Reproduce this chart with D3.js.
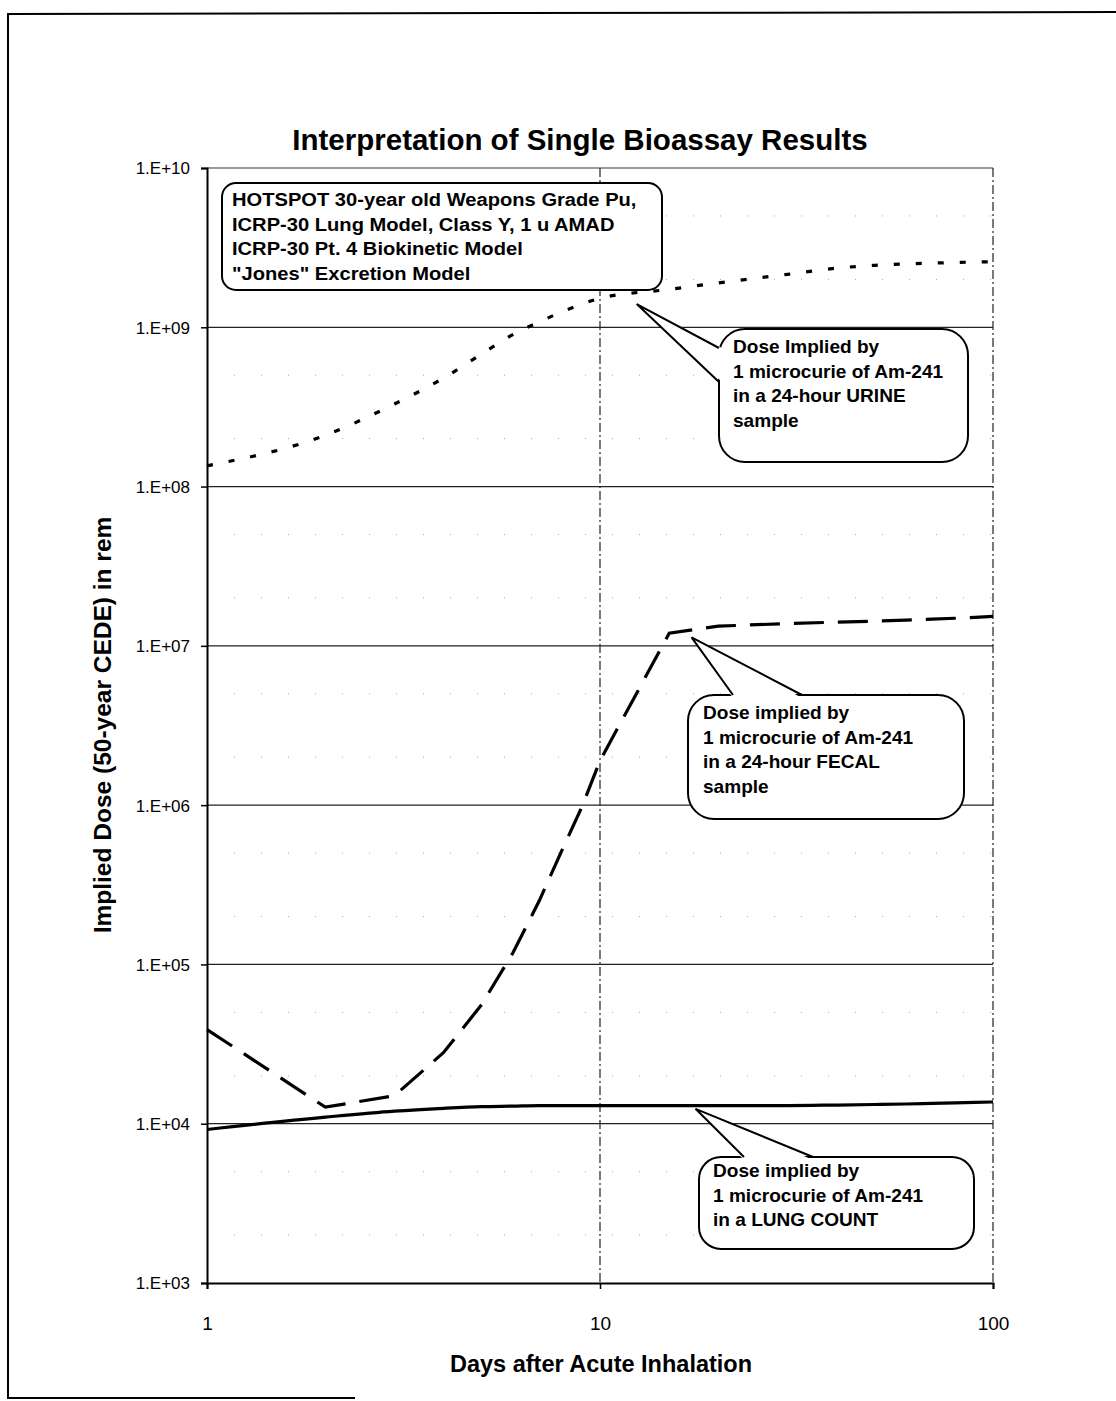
<!DOCTYPE html>
<html>
<head>
<meta charset="utf-8">
<script src="https://cdn.jsdelivr.net/npm/d3@7"></script>
<style>
  body { margin: 0; background: #fff; }
  text { font-family: "Liberation Sans", Arial, sans-serif; fill: #000; }
</style>
</head>
<body>
<script>
// data
const days = [1, 2, 3, 4, 5, 6, 7, 8, 9, 10, 15, 20, 30, 40, 50, 60, 70, 80, 90, 100];
const urine = [1.35e8, 2.1e8, 3.3e8, 4.8e8, 6.8e8, 9.0e8, 1.08e9, 1.25e9, 1.4e9, 1.52e9,
  1.73e9, 1.9e9, 2.15e9, 2.35e9, 2.45e9, 2.5e9, 2.53e9, 2.55e9, 2.57e9, 2.58e9];
const fecal = [3.9e4, 1.27e4, 1.5e4, 2.8e4, 5.6e4, 1.18e5, 2.5e5, 5.2e5, 9.8e5, 1.9e6,
  1.2e7, 1.33e7, 1.38e7, 1.41e7, 1.43e7, 1.45e7, 1.47e7, 1.49e7, 1.51e7, 1.53e7];
const lung = [9.2e3, 1.1e4, 1.2e4, 1.25e4, 1.28e4, 1.29e4, 1.3e4, 1.3e4, 1.3e4, 1.3e4,
  1.3e4, 1.3e4, 1.3e4, 1.31e4, 1.32e4, 1.33e4, 1.34e4, 1.35e4, 1.36e4, 1.37e4];
const yTicks = [1e3, 1e4, 1e5, 1e6, 1e7, 1e8, 1e9, 1e10];
const yTickLabels = ["1.E+03", "1.E+04", "1.E+05", "1.E+06", "1.E+07", "1.E+08", "1.E+09", "1.E+10"];
const xTicks = [1, 10, 100];

const width = 1116;
const height = 1401;

const svg = d3.select("body")
  .append("svg")
  .attr("width", width)
  .attr("height", height);

svg.append("rect").attr("width", width).attr("height", height).attr("fill", "#fff");

// page frame
svg.append("path")
  .attr("d", "M1116,12 L8,14 L8,1398 L355,1398")
  .attr("fill", "none").attr("stroke", "#000").attr("stroke-width", 2);

const x = d3.scaleLog().domain([1, 100]).range([207, 993]);
const y = d3.scaleLog().domain([1e3, 1e10]).range([1283, 168]);

// minor gridlines (2 and 5 in each decade), faint and sparse like the scan
const minor = [];
yTicks.slice(0, -1).forEach(d => { minor.push(d * 2, d * 5); });
svg.append("g").selectAll("line").data(minor).join("line")
  .attr("x1", x(1)).attr("x2", x(100))
  .attr("y1", d => y(d)).attr("y2", d => y(d))
  .attr("stroke", "#aaa").attr("stroke-width", 1)
  .attr("stroke-dasharray", "1,26");

// major gridlines
svg.append("g").selectAll("line").data(yTicks.slice(1, -1)).join("line")
  .attr("x1", x(1)).attr("x2", x(100))
  .attr("y1", d => y(d)).attr("y2", d => y(d))
  .attr("stroke", "#222").attr("stroke-width", 1.3);

// top border
svg.append("line")
  .attr("x1", x(1)).attr("x2", x(100)).attr("y1", y(1e10)).attr("y2", y(1e10))
  .attr("stroke", "#333").attr("stroke-width", 1.2);

// dash-dot verticals at 10 and 100
svg.append("g").selectAll("line").data([10, 100]).join("line")
  .attr("x1", d => x(d)).attr("x2", d => x(d))
  .attr("y1", y(1e10)).attr("y2", y(1e3))
  .attr("stroke", "#222").attr("stroke-width", 1.2)
  .attr("stroke-dasharray", "9,3,2,3");

// axes
const yAxis = d3.axisLeft(y).tickValues(yTicks).tickFormat((d, i) => yTickLabels[i])
  .tickSize(6).tickPadding(11);
svg.append("g").attr("transform", `translate(${x(1)},0)`).call(yAxis)
  .call(g => g.select(".domain").attr("stroke-width", 2))
  .call(g => g.selectAll(".tick line").attr("stroke-width", 1.5))
  .call(g => g.selectAll("text").style("font-size", "17px")
    .style("font-family", "'Liberation Sans', Arial, sans-serif").attr("dy", "0.35em"));

const xAxis = d3.axisBottom(x).tickValues(xTicks).tickFormat(d3.format("d"))
  .tickSize(6).tickPadding(28);
svg.append("g").attr("transform", `translate(0,${y(1e3)})`).call(xAxis)
  .call(g => g.select(".domain").attr("stroke-width", 2))
  .call(g => g.selectAll(".tick line").attr("stroke-width", 1.5))
  .call(g => g.selectAll("text").style("font-size", "19px")
    .style("font-family", "'Liberation Sans', Arial, sans-serif"));

// series
const series = [
  { values: urine, dash: "6,16", curve: d3.curveMonotoneX },
  { values: fecal, dash: "30,14", curve: d3.curveLinear },
  { values: lung, dash: null, curve: d3.curveMonotoneX }
];
series.forEach(s => {
  const line = d3.line().x((d, i) => x(days[i])).y(d => y(d)).curve(s.curve);
  svg.append("path")
    .datum(s.values)
    .attr("d", line)
    .attr("fill", "none")
    .attr("stroke", "#000")
    .attr("stroke-width", 3.2)
    .attr("stroke-dasharray", s.dash);
});

// info box
svg.append("rect")
  .attr("x", 222).attr("y", 183).attr("width", 440).attr("height", 107)
  .attr("rx", 14).attr("fill", "#fff").attr("stroke", "#000").attr("stroke-width", 2);
const infoLines = [
  "HOTSPOT 30-year old Weapons Grade Pu,",
  "ICRP-30 Lung Model, Class Y, 1 u AMAD",
  "ICRP-30 Pt. 4 Biokinetic Model",
  "\"Jones\" Excretion Model"
];
svg.append("g").selectAll("text").data(infoLines).join("text")
  .attr("transform", (d, i) => `translate(232,${206 + i * 24.5}) scale(1.06,1)`)
  .style("font-size", "19px").style("font-weight", "bold")
  .text(d => d);

// callouts
const callouts = [
  { box: [719, 329, 249, 133], r: 26, tip: [12.4, 1.4e9], base: [[719, 348], [719, 382]],
    lines: ["Dose Implied by", "1 microcurie of Am-241", "in a 24-hour URINE", "sample"],
    tx: 733, ty: 353 },
  { box: [688, 695, 276, 124], r: 26, tip: [17.1, 1.13e7], base: [[733, 695], [802, 695]],
    lines: ["Dose implied by", "1 microcurie of Am-241", "in a 24-hour FECAL", "sample"],
    tx: 703, ty: 719 },
  { box: [699, 1157, 275, 92], r: 22, tip: [17.5, 1.24e4], base: [[744, 1157], [813, 1157]],
    lines: ["Dose implied by", "1 microcurie of Am-241", "in a LUNG COUNT"],
    tx: 713, ty: 1177 }
];
callouts.forEach(c => {
  const g = svg.append("g");
  g.append("rect")
    .attr("x", c.box[0]).attr("y", c.box[1]).attr("width", c.box[2]).attr("height", c.box[3])
    .attr("rx", c.r).attr("fill", "#fff").attr("stroke", "#000").attr("stroke-width", 2);
  const tip = [x(c.tip[0]), y(c.tip[1])];
  const pts = [c.base[0], tip, c.base[1]];
  // cover the box edge under the pointer, then draw its two sides
  const vertical = c.base[0][0] === c.base[1][0];
  const inset = vertical ? [[c.base[0][0] + 3, c.base[0][1]], tip, [c.base[1][0] + 3, c.base[1][1]]]
    : [[c.base[0][0], c.base[0][1] + 3], tip, [c.base[1][0], c.base[1][1] + 3]];
  g.append("path").attr("d", d3.line()(inset) + "Z").attr("fill", "#fff");
  g.append("path").attr("d", d3.line()(pts)).attr("fill", "none")
    .attr("stroke", "#000").attr("stroke-width", 2);
  g.selectAll("text").data(c.lines).join("text")
    .attr("transform", (d, i) => `translate(${c.tx},${c.ty + i * 24.5}) scale(1.06,1)`)
    .style("font-size", "18px").style("font-weight", "bold")
    .text(d => d);
});

// titles
svg.append("text")
  .attr("x", 580).attr("y", 150)
  .attr("text-anchor", "middle")
  .style("font-size", "29.5px").style("font-weight", "bold")
  .text("Interpretation of Single Bioassay Results");

svg.append("text")
  .attr("x", 601).attr("y", 1372)
  .attr("text-anchor", "middle")
  .style("font-size", "23.5px").style("font-weight", "bold")
  .text("Days after Acute Inhalation");

svg.append("text")
  .attr("transform", "translate(111,725) rotate(-90)")
  .attr("text-anchor", "middle")
  .style("font-size", "24.5px").style("font-weight", "bold")
  .text("Implied Dose (50-year CEDE) in rem");
</script>
</body>
</html>
